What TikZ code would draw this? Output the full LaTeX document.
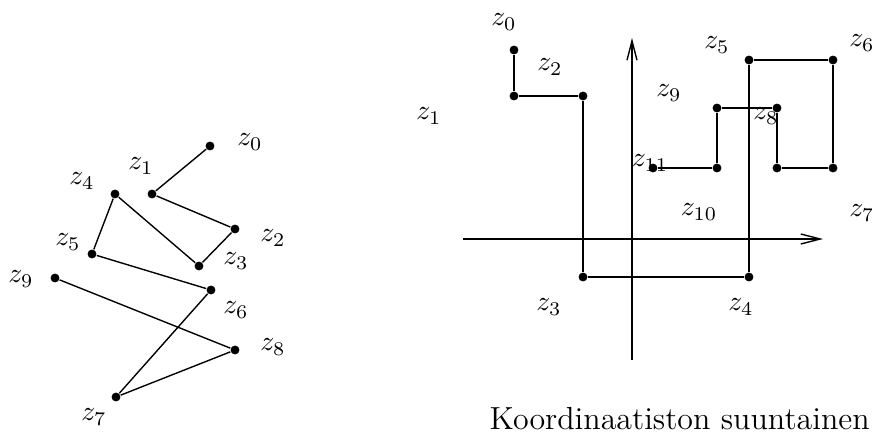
\documentclass[tikz,border=0pt]{standalone}
\usepackage{tikz}
\usetikzlibrary{arrows.meta}
\tikzset{
  point/.style={circle, fill=black, inner sep=0pt, minimum size=3.2pt},
  pathline/.style={black, line width=0.5pt},
  axisline/.style={black, -{Straight Barb[length=7pt,width=3.6pt]}, line width=0.5pt},
  zlabel/.style={inner sep=0pt},
  captionnode/.style={inner sep=0pt, anchor=base west, font=\fontsize{11.5}{13}\selectfont}
}
\begin{document}
\begin{tikzpicture}[x=0.36pt,y=-0.36pt]
  \useasboundingbox (0,0) rectangle (872,433);
  % left: the points joined in order
  \foreach \n/\x/\y in {0/210/146,1/152/194,2/235/229,3/199/266,4/115/194,
                        5/92/254,6/211/290,7/116/397,8/235/350,9/55/278}
    \node[point] (l\n) at (\x,\y) {};
  \draw[pathline] (l0) -- (l1) -- (l2) -- (l3) -- (l4) -- (l5) -- (l6)
    -- (l7) -- (l8) -- (l9);
  \foreach \n/\x/\y in {0/250/142,1/141/166,2/273/238,3/236/261,4/82/181,
                        5/68/242,6/236/310,7/94/417,8/273/347,9/21/279}
    \node[zlabel] (lz\n) at (\x,\y) {$z_{\n}$};
  % right: axes
  \coordinate (xs) at (463,239);
  \coordinate (xe) at (823,239);
  \coordinate (ys) at (632,360);
  \coordinate (ye) at (632,38);
  \draw[axisline] (xs) -- (xe);
  \draw[axisline] (ys) -- (ye);
  % right: path parallel to the axes
  \foreach \n/\x/\y in {0/514/50,1/514/96,2/583/96,3/583/277,4/749/277,
                        5/749/60,6/833/60,7/833/168,8/777/168,9/777/108,
                        10/717/108,11/717/168,12/653/168}
    \node[point] (r\n) at (\x,\y) {};
  \draw[pathline] (r0) -- (r1) -- (r2) -- (r3) -- (r4) -- (r5) -- (r6)
    -- (r7) -- (r8) -- (r9) -- (r10) -- (r11) -- (r12);
  \foreach \n/\x/\y in {0/504/22,1/429/116,2/550/67,3/549/307,4/741/307,
                        5/717/45,6/862/43,7/862/213,8/766/116,9/669/93,
                        10/699/212,11/650/163}
    \node[zlabel] (rz\n) at (\x,\y) {$z_{\n}$};
  \node[captionnode] (cap) at (489,429) {Koordinaatiston suuntainen};
\end{tikzpicture}
\end{document}
